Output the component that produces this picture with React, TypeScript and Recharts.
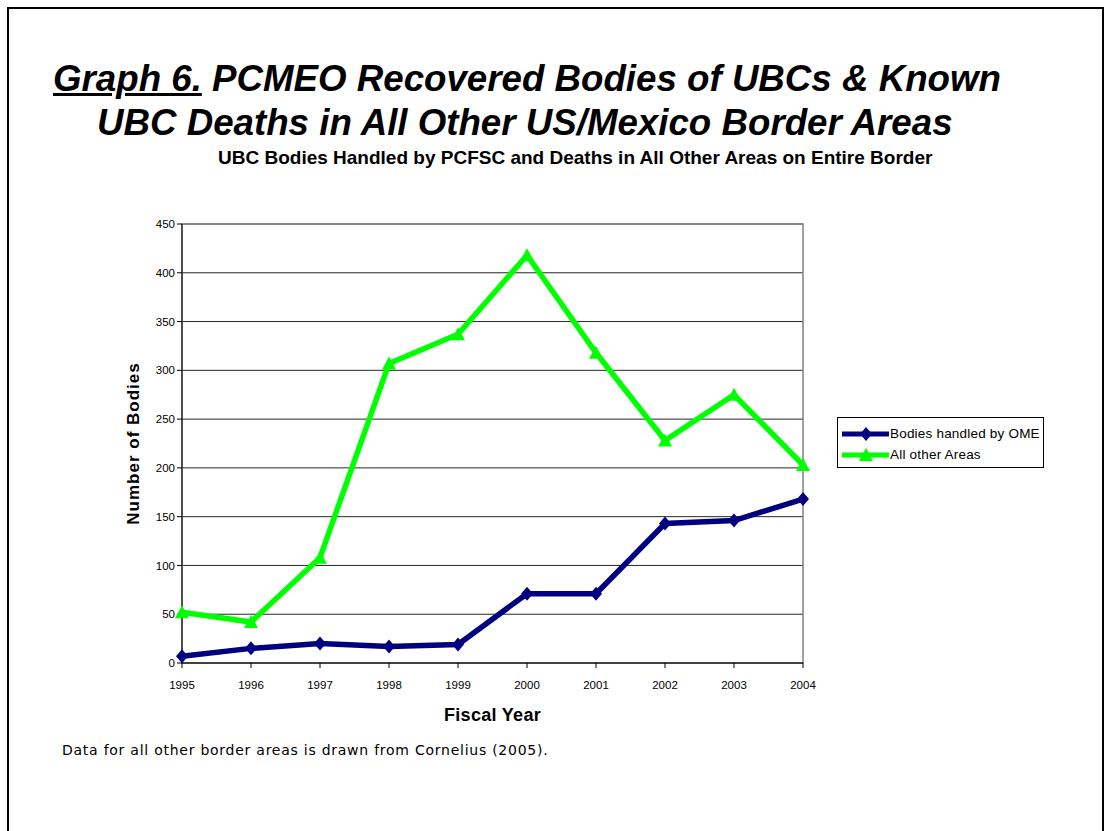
import React from "react";
import { LineChart, Line, XAxis, YAxis, CartesianGrid, ReferenceArea, Label } from "recharts";

const YEARS = ["1995", "1996", "1997", "1998", "1999", "2000", "2001", "2002", "2003", "2004"];
const OME_BODIES = [7, 15, 20, 17, 19, 71, 71, 143, 146, 168];
const OTHER_AREAS = [52, 42, 108, 307, 337, 418, 318, 228, 275, 203];
const Y_TICKS = [0, 50, 100, 150, 200, 250, 300, 350, 400, 450];

const SERIES = [
  { key: "ome", name: "Bodies handled by OME", color: "#000080", shape: "diamond" },
  { key: "other", name: "All other Areas", color: "#00FF00", shape: "triangle" },
];

const data = YEARS.map((year, i) => ({ year, ome: OME_BODIES[i], other: OTHER_AREAS[i] }));

const FONT = "'Liberation Sans', Arial, sans-serif";

const Diamond = ({ cx, cy, color }: any) => (
  <polygon points={`${cx},${cy - 7} ${cx + 6},${cy} ${cx},${cy + 7} ${cx - 6},${cy}`} fill={color} />
);

const Triangle = ({ cx, cy, color }: any) => (
  <polygon points={`${cx},${cy - 7} ${cx + 7},${cy + 6} ${cx - 7},${cy + 6}`} fill={color} />
);

const makeDot = (shape: string, color: string) => (props: any) => {
  const { cx, cy, index } = props;
  if (cx == null || cy == null) return <g key={index} />;
  return shape === "diamond" ? (
    <Diamond key={index} cx={cx} cy={cy} color={color} />
  ) : (
    <Triangle key={index} cx={cx} cy={cy} color={color} />
  );
};

// legend drawn as plain html so it doesn't eat plot height
const LegendBox = () => (
  <div
    style={{
      position: "absolute",
      left: 837,
      top: 417,
      width: 207,
      height: 51,
      border: "1px solid #000",
      background: "#fff",
      boxSizing: "border-box",
      padding: "5px 0 0 4px",
      fontFamily: FONT,
      fontSize: 13.5,
      letterSpacing: 0.2,
    }}
  >
    {SERIES.map((s) => (
      <div key={s.key} style={{ display: "flex", alignItems: "center", height: 21 }}>
        <svg width={47} height={14} style={{ marginRight: 1 }}>
          <line x1={0} y1={7} x2={47} y2={7} stroke={s.color} strokeWidth={5} />
          {s.shape === "diamond" ? (
            <Diamond cx={24} cy={7} color={s.color} />
          ) : (
            <Triangle cx={24} cy={7} color={s.color} />
          )}
        </svg>
        <span>{s.name}</span>
      </div>
    ))}
  </div>
);

export default function App() {
  return (
    <div style={{ position: "absolute", left: 0, top: 0, width: 1111, height: 831, background: "#fff", overflow: "hidden" }}>
      <div style={{ position: "absolute", left: 7, top: 7, width: 1097, height: 830, border: "2px solid #000", boxSizing: "border-box" }} />
      <div style={{ position: "absolute", left: 53, top: 60, fontFamily: FONT, fontSize: 36.7, lineHeight: "37px", fontWeight: "bold", fontStyle: "italic", whiteSpace: "nowrap" }}>
        <span style={{ textDecoration: "underline" }}>Graph 6.</span> PCMEO Recovered Bodies of UBCs &amp; Known
      </div>
      <div style={{ position: "absolute", left: 97, top: 104, fontFamily: FONT, fontSize: 36.7, lineHeight: "37px", fontWeight: "bold", fontStyle: "italic", whiteSpace: "nowrap" }}>
        UBC Deaths in All Other US/Mexico Border Areas
      </div>
      <div style={{ position: "absolute", left: 218, top: 148, fontFamily: FONT, fontSize: 19, lineHeight: "19px", fontWeight: "bold", whiteSpace: "nowrap" }}>
        UBC Bodies Handled by PCFSC and Deaths in All Other Areas on Entire Border
      </div>
      <div style={{ position: "absolute", left: 62, top: 743, fontFamily: "'DejaVu Sans', Verdana, sans-serif", fontSize: 14, lineHeight: "14px", letterSpacing: 0.75, whiteSpace: "nowrap" }}>
        Data for all other border areas is drawn from Cornelius (2005).
      </div>
      <div style={{ position: "absolute", left: 0, top: 0 }}>
        <LineChart width={1111} height={831} data={data} margin={{ top: 224, right: 308, bottom: 138, left: 122 }}>
          <CartesianGrid horizontal vertical={false} stroke="#000" strokeOpacity={0.85} />
          <ReferenceArea x1="1995" x2="2004" y1={0} y2={450} fill="none" stroke="#808080" strokeWidth={1.5} ifOverflow="visible" />
          <XAxis
            dataKey="year"
            interval={0}
            height={30}
            axisLine={{ stroke: "#000" }}
            tickLine={{ stroke: "#000" }}
            tickSize={5}
            tick={{ fill: "#000", fontSize: 11.5, fontFamily: FONT }}
            tickMargin={13}
          >
            <Label value="Fiscal Year" position="bottom" offset={15} style={{ fontFamily: FONT, fontSize: 18, fontWeight: "bold", fill: "#000", letterSpacing: 0.3 }} />
          </XAxis>
          <YAxis
            width={60}
            domain={[0, 450]}
            ticks={Y_TICKS}
            interval={0}
            axisLine={{ stroke: "#000" }}
            tickLine={{ stroke: "#000" }}
            tickSize={5}
            tick={{ fill: "#000", fontSize: 11.5, fontFamily: FONT }}
            tickMargin={2}
          >
            <Label value="Number of Bodies" angle={-90} position="insideLeft" offset={11} style={{ fontFamily: FONT, fontSize: 17, fontWeight: "bold", fill: "#000", textAnchor: "middle", letterSpacing: 1 }} />
          </YAxis>
          {SERIES.map((s) => (
            <Line
              key={s.key}
              type="linear"
              dataKey={s.key}
              name={s.name}
              stroke={s.color}
              strokeWidth={5.5}
              dot={makeDot(s.shape, s.color)}
              activeDot={false}
              isAnimationActive={false}
            />
          ))}
        </LineChart>
      </div>
      <LegendBox />
    </div>
  );
}
